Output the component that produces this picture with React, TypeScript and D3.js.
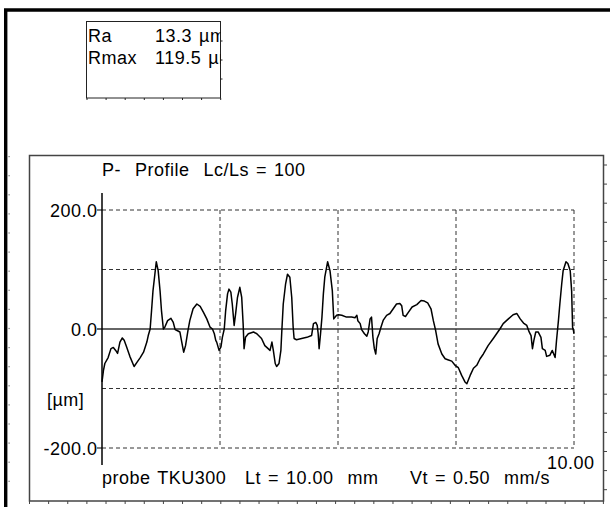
import React from 'react';
import { scaleLinear, line, range } from 'd3';

// profile: position along the probe path (mm) and height (µm)
const xMm = [
  0.00, 0.03, 0.06, 0.13, 0.19, 0.24, 0.29, 0.33, 0.38, 0.43, 0.47, 0.52, 0.59, 0.68, 0.74, 0.81, 0.88, 0.95, 0.98, 1.02,
  1.05, 1.08, 1.12, 1.15, 1.19, 1.23, 1.26, 1.30, 1.33, 1.39, 1.46, 1.51, 1.55, 1.60, 1.65, 1.69, 1.73, 1.77, 1.82, 1.86,
  1.93, 2.01, 2.08, 2.15, 2.22, 2.29, 2.34, 2.38, 2.41, 2.43, 2.48, 2.52, 2.55, 2.59, 2.62, 2.66, 2.69, 2.73, 2.76, 2.80,
  2.83, 2.87, 2.92, 2.96, 2.99, 3.01, 3.04, 3.10, 3.21, 3.28, 3.38, 3.45, 3.52, 3.56, 3.60, 3.63, 3.67, 3.70, 3.75, 3.79,
  3.81, 3.84, 3.89, 3.93, 3.98, 4.02, 4.05, 4.07, 4.12, 4.23, 4.34, 4.44, 4.48, 4.53, 4.56, 4.58, 4.60, 4.63, 4.66, 4.69,
  4.72, 4.78, 4.83, 4.88, 4.91, 4.97, 5.01, 5.08, 5.18, 5.29, 5.36, 5.40, 5.42, 5.47, 5.50, 5.56, 5.61, 5.64, 5.68, 5.71,
  5.74, 5.77, 5.80, 5.83, 5.87, 5.91, 5.96, 6.03, 6.10, 6.17, 6.24, 6.31, 6.35, 6.38, 6.43, 6.49, 6.57, 6.67, 6.76, 6.83,
  6.90, 6.97, 7.02, 7.07, 7.12, 7.20, 7.27, 7.34, 7.41, 7.48, 7.55, 7.62, 7.69, 7.73, 7.80, 7.87, 7.94, 8.01, 8.08, 8.18,
  8.29, 8.36, 8.43, 8.50, 8.61, 8.71, 8.79, 8.86, 8.93, 9.00, 9.05, 9.09, 9.12, 9.15, 9.19, 9.24, 9.30, 9.33, 9.39, 9.42,
  9.49, 9.54, 9.60, 9.63, 9.67, 9.70, 9.74, 9.77, 9.83, 9.87, 9.92, 9.95, 9.97, 9.99, 10.00,
];
const heightUm = [
  -89, -70, -58, -48, -33, -31, -36, -41, -22, -15, -19, -30, -46, -63, -56, -48, -39, -22, -11, 0,
  31, 64, 92, 113, 98, 64, 31, 0, 3, 14, 18, 11, -1, -3, -5, -22, -39, -28, -3, 14,
  34, 42, 38, 28, 17, 3, 0, -8, -19, -22, -36, -30, -14, 0, 31, 59, 67, 62, 42, 6,
  25, 53, 70, 53, 9, -33, -14, -8, -5, -8, -16, -28, -33, -36, -22, -36, -58, -63, -58, -36,
  -3, 42, 76, 92, 87, 53, 3, -16, -18, -16, -14, -11, 9, 11, 6, -8, -33, -8, 20, 59,
  87, 113, 98, 64, 17, 23, 24, 23, 20, 20, 19, 23, 14, 9, -1, -8, -12, -5, 17, 20,
  -14, -33, -42, -16, -8, 3, 15, 23, 26, 34, 42, 43, 39, 23, 21, 28, 37, 41, 48, 47,
  44, 34, 14, -3, -25, -42, -50, -52, -54, -61, -65, -78, -89, -92, -78, -66, -61, -50, -42, -28,
  -16, -8, 0, 9, 17, 24, 26, 17, 10, 6, -5, -11, -33, -19, -5, -5, -14, -33, -36, -46,
  -44, -36, -48, -19, 14, 42, 76, 98, 113, 110, 98, 64, 3, -3, -8,
];

const yGrid = [200, 100, -100, -200];
const xGrid = [2.5, 5, 7.5, 10];
const yLabels = [
  { v: 200, t: '200.0' },
  { v: 0, t: '0.0' },
  { v: -200, t: '-200.0' },
];

const results = [
  { name: 'Ra', value: '13.3 µm' },
  { name: 'Rmax', value: '119.5 µm' },
];

const font = '"Liberation Sans", Arial, sans-serif';

export default function App() {
  const x = scaleLinear().domain([0, 10]).range([102, 574]);
  const y = scaleLinear().domain([-200, 200]).range([448, 210]);

  const pts = xMm.map((d, i) => [d, heightUm[i]] as [number, number]);
  const path = line<[number, number]>()
    .x(d => x(d[0]))
    .y(d => y(d[1]))(pts);

  const txt = {
    fontFamily: font, fontSize: 18, fill: '#000', whiteSpace: 'pre' as const,
    letterSpacing: '0.5px', wordSpacing: '1.5px',
  };

  return (
    <svg width={610} height={507} style={{ position: 'absolute', left: 0, top: 0, background: '#fff' }}>
      {/* outer frame */}
      <path d="M5.7,507 V10 H610" fill="none" stroke="#000" strokeWidth={3.4} />
      {range(18).map(i => (
        <rect key={'ld' + i} x={8.5} y={156 + i * 19.1} width={1.2} height={1.2} fill="#777" />
      ))}

      {/* result box */}
      <defs>
        <clipPath id="resClip">
          <rect x={86} y={21} width={134.5} height={77} />
        </clipPath>
      </defs>
      <rect x={86.5} y={21.5} width={134} height={76.5} fill="none" stroke="#222" strokeWidth={1} />
      {range(8).map(i => (
        <line key={'bt' + i} x1={87 + i * 19.1} x2={87 + i * 19.1} y1={98} y2={100} stroke="#222" />
      ))}
      {[79, 60, 41].map(v => (
        <line key={'rt' + v} x1={220.5} x2={222.5} y1={v} y2={v} stroke="#222" />
      ))}
      <g clipPath="url(#resClip)">
        {results.map((r, i) => (
          <g key={r.name}>
            <text x={88} y={42 + i * 22} style={txt}>{r.name}</text>
            <text x={155} y={42 + i * 22} style={txt}>{r.value}</text>
          </g>
        ))}
      </g>

      {/* profile panel */}
      <rect x={29.5} y={155.5} width={574} height={345.5} fill="none" stroke="#444" strokeWidth={1.5} />
      {range(31).map(i => (
        <line key={'pb' + i} x1={29.5 + i * 19.13} x2={29.5 + i * 19.13} y1={501} y2={504} stroke="#444" />
      ))}
      {range(18).map(i => (
        <line key={'pr' + i} x1={603.5} x2={607} y1={165 + i * 19.1} y2={165 + i * 19.1} stroke="#444" />
      ))}

      <text x={102} y={176} style={txt}>{'P-  Profile  Lc/Ls = 100'}</text>

      {/* grid */}
      {yGrid.map(v => (
        <line key={'hg' + v} x1={x(0)} x2={x(10)} y1={y(v)} y2={y(v)}
          stroke="#333" strokeWidth={1} strokeDasharray="4,3" />
      ))}
      {xGrid.map(v => (
        <line key={'vg' + v} x1={x(v)} x2={x(v)} y1={y(200)} y2={y(-200)}
          stroke="#333" strokeWidth={1} strokeDasharray="4,3" />
      ))}
      <line x1={97} x2={x(10)} y1={y(0)} y2={y(0)} stroke="#333" strokeWidth={1.5} />
      {[200, -200].map(v => (
        <line key={'yt' + v} x1={97} x2={x(0)} y1={y(v)} y2={y(v)} stroke="#000" strokeWidth={1} />
      ))}
      <line x1={x(0)} x2={x(0)} y1={193} y2={465} stroke="#000" strokeWidth={1.5} />

      {yLabels.map(l => (
        <text key={l.t} x={97.5} y={y(l.v) + 6.5} textAnchor="end" style={txt}>{l.t}</text>
      ))}
      <text x={47} y={406} style={txt}>[µm]</text>
      <text x={547} y={469} style={txt}>10.00</text>

      <path d={path || ''} fill="none" stroke="#000" strokeWidth={1.5} strokeLinejoin="round" />

      <text x={102} y={484} style={txt}>probe TKU300</text>
      <text x={245} y={484} style={txt}>{'Lt = 10.00  mm'}</text>
      <text x={410} y={484} style={txt}>{'Vt = 0.50  mm/s'}</text>
    </svg>
  );
}
